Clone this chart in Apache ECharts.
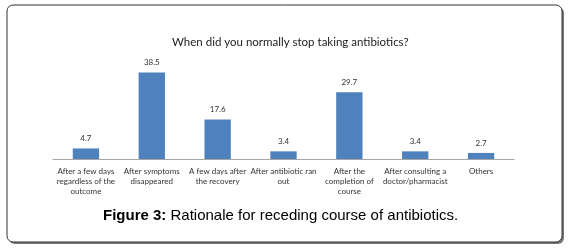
<!DOCTYPE html>
<html>
<head>
<meta charset="utf-8">
<script src="https://cdn.jsdelivr.net/npm/echarts@6/dist/echarts.min.js"></script>
<style>
  html, body { margin: 0; padding: 0; background: #fff; }
  #chart { width: 579px; height: 252px; }
</style>
</head>
<body>
<div id="chart"></div>
<script>
var categories = [
  'After a few days\nregardless of the\noutcome',
  'After symptoms\ndisappeared',
  'A few days after\nthe recovery',
  'After antibiotic ran\nout',
  'After the\ncompletion of\ncourse',
  'After consulting a\ndoctor/pharmacist',
  'Others'
]
var values = [4.7, 38.5, 17.6, 3.4, 29.7, 3.4, 2.7]

var chart = echarts.init(document.getElementById('chart'))
var option = {
  animation: false,
  title: {
    text: 'When did you normally stop taking antibiotics?',
    left: 167,
    top: 31,
    textStyle: { fontFamily: 'Lato', fontSize: 11.5, fontWeight: 'normal', color: '#222' }
  },
  graphic: [
    {
      type: 'rect',
      shape: { x: 9, y: 7, width: 555, height: 237, r: 6 },
      style: { fill: '#777' },
      z: -2
    },
    {
      type: 'rect',
      shape: { x: 7, y: 5, width: 555, height: 237, r: 6 },
      style: { fill: '#fff', stroke: '#333', lineWidth: 1 },
      z: -1
    },
    {
      type: 'text',
      left: 103,
      top: 208,
      style: {
        text: '{b|Figure 3:} Rationale for receding course of antibiotics.',
        rich: {
          b: { fontFamily: 'Liberation Sans', fontSize: 15, fontWeight: 'bold', fill: '#000' }
        },
        fontFamily: 'Liberation Sans',
        fontSize: 15,
        fill: '#000'
      }
    }
  ],
  grid: { left: 53, right: 65, top: 69, bottom: 93 },
  xAxis: {
    type: 'category',
    data: categories,
    axisLine: { lineStyle: { color: '#a6a6a6' } },
    axisTick: { show: false },
    axisLabel: {
      interval: 0,
      fontFamily: 'Lato',
      fontSize: 8,
      color: '#333',
      lineHeight: 10,
      margin: 7
    }
  },
  yAxis: {
    type: 'value',
    min: 0,
    max: 40,
    show: false
  },
  series: [{
    type: 'bar',
    data: values,
    barWidth: '40%',
    itemStyle: { color: '#4f81bd' },
    label: {
      show: true,
      position: 'top',
      distance: 6,
      fontFamily: 'Lato',
      fontSize: 8,
      color: '#333'
    }
  }]
}
chart.setOption(option)
</script>
</body>
</html>
